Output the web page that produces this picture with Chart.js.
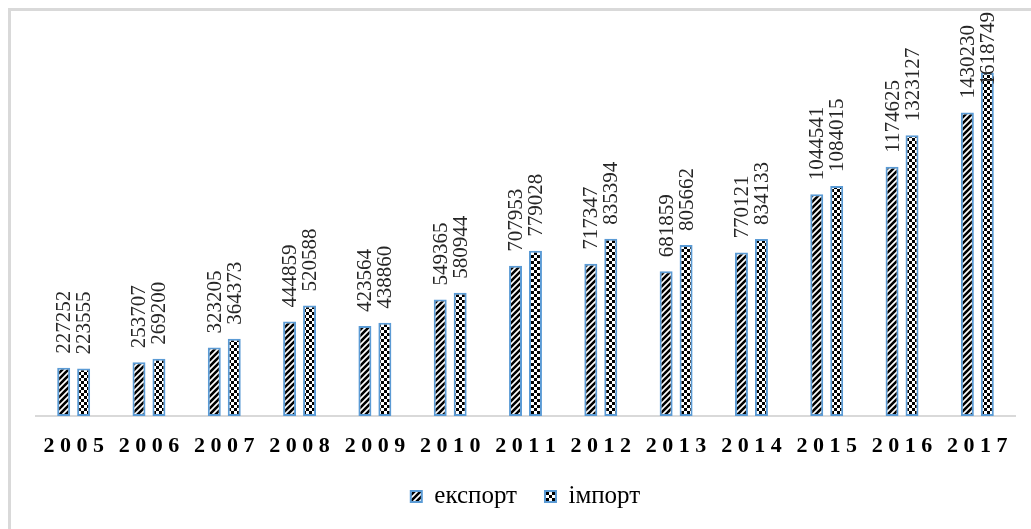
<!DOCTYPE html>
<html>
<head>
<meta charset="utf-8">
<script src="https://cdn.jsdelivr.net/npm/chart.js@4"></script>
<style>
  html, body { margin: 0; padding: 0; background: #fff; overflow: hidden; font-family: "Liberation Serif", serif; }
  #wrap { position: relative; width: 1031px; height: 529px; }
  #frame { position: absolute; left: 8px; top: 8px; width: 1040px; height: 540px; border: 3px solid #d9d9d9; box-sizing: border-box; }
  canvas { position: absolute; left: 0; top: 0; }
  #warm { position: absolute; left: -9999px; top: 0; font-family: "Liberation Serif"; }
</style>
</head>
<body>
<div id="wrap">
  <div id="frame"></div>
  <canvas id="c" width="1031" height="529"></canvas>
  <span id="warm">експорт імпорт 0123456789 <b>2005</b></span>
</div>
<script>
const years = ['2005','2006','2007','2008','2009','2010','2011','2012','2013','2014','2015','2016','2017'];
const exportValues = [227252, 253707, 323205, 444859, 423564, 549365, 707953, 717347, 681859, 770121, 1044541, 1174625, 1430230];
const importValues = [223555, 269200, 364373, 520588, 438860, 580944, 779028, 835394, 805662, 834133, 1084015, 1323127, 1618749];
const seriesNames = ['експорт', 'імпорт'];

const FAMILY = '"Liberation Serif", "Times New Roman", serif';

function stripePattern() {
  const s = 6;
  const c = document.createElement('canvas');
  c.width = s; c.height = s;
  const g = c.getContext('2d');
  g.fillStyle = '#fff'; g.fillRect(0, 0, s, s);
  g.strokeStyle = '#000'; g.lineWidth = 2.6; g.lineCap = 'square';
  g.beginPath();
  g.moveTo(0, s); g.lineTo(s, 0);
  g.moveTo(-s / 2, s / 2); g.lineTo(s / 2, -s / 2);
  g.moveTo(s / 2, s * 1.5); g.lineTo(s * 1.5, s / 2);
  g.stroke();
  return g.createPattern(c, 'repeat');
}
function checkerPattern() {
  const s = 3;
  const c = document.createElement('canvas');
  c.width = s * 2; c.height = s * 2;
  const g = c.getContext('2d');
  g.fillStyle = '#fff'; g.fillRect(0, 0, s * 2, s * 2);
  g.fillStyle = '#000';
  g.fillRect(0, 0, s, s); g.fillRect(s, s, s, s);
  return g.createPattern(c, 'repeat');
}

const valueLabels = {
  id: 'valueLabels',
  afterDatasetsDraw(chart) {
    const ctx = chart.ctx;
    ctx.save();
    ctx.font = '21px ' + FAMILY;
    ctx.fillStyle = '#262626';
    ctx.textAlign = 'left';
    ctx.textBaseline = 'middle';
    chart.data.datasets.forEach((ds, di) => {
      const meta = chart.getDatasetMeta(di);
      meta.data.forEach((bar, i) => {
        const txt = String(ds.data[i]);
        const w = ctx.measureText(txt).width;
        let start = bar.y - 14;
        if (start - w < 12) start = 12 + w;
        ctx.save();
        ctx.translate(bar.x + 1, start);
        ctx.rotate(-Math.PI / 2);
        ctx.fillText(txt, 0, 0);
        ctx.restore();
      });
    });
    ctx.restore();
  }
};

function draw() {
  new Chart(document.getElementById('c'), {
    type: 'bar',
    data: {
      labels: years,
      datasets: [
        { label: seriesNames[0], data: exportValues, backgroundColor: stripePattern(), borderColor: '#5b9bd5', borderWidth: 2, borderSkipped: false },
        { label: seriesNames[1], data: importValues, backgroundColor: checkerPattern(), borderColor: '#5b9bd5', borderWidth: 2, borderSkipped: false }
      ]
    },
    options: {
      responsive: false,
      animation: false,
      layout: { padding: { left: 36, right: 16, top: 34, bottom: 10 } },
      datasets: { bar: { categoryPercentage: 0.53, barPercentage: 0.65 } },
      scales: {
        x: {
          grid: { display: false, drawTicks: false },
          border: { display: true, color: '#d9d9d9', width: 2 },
          afterFit(scale) { scale.height = 40; },
          ticks: {
            autoSkip: false, maxRotation: 0, minRotation: 0, padding: 17,
            color: '#000',
            font: { family: FAMILY, size: 22, weight: 'bold' },
            callback: function(v, i) { return years[i].split('').join(' '); }
          }
        },
        y: { display: false, min: 0, max: 1800000 }
      },
      plugins: {
        legend: {
          position: 'bottom',
          labels: {
            boxWidth: 11, boxHeight: 11, padding: 28, color: '#000',
            font: { family: FAMILY, size: 25 }
          }
        },
        tooltip: { enabled: false }
      }
    },
    plugins: [valueLabels]
  });
}

Promise.all([
  document.fonts.load('20px "Liberation Serif"', 'експорт 0123'),
  document.fonts.load('bold 21px "Liberation Serif"', '2005')
]).then(draw, draw);
</script>
</body>
</html>
